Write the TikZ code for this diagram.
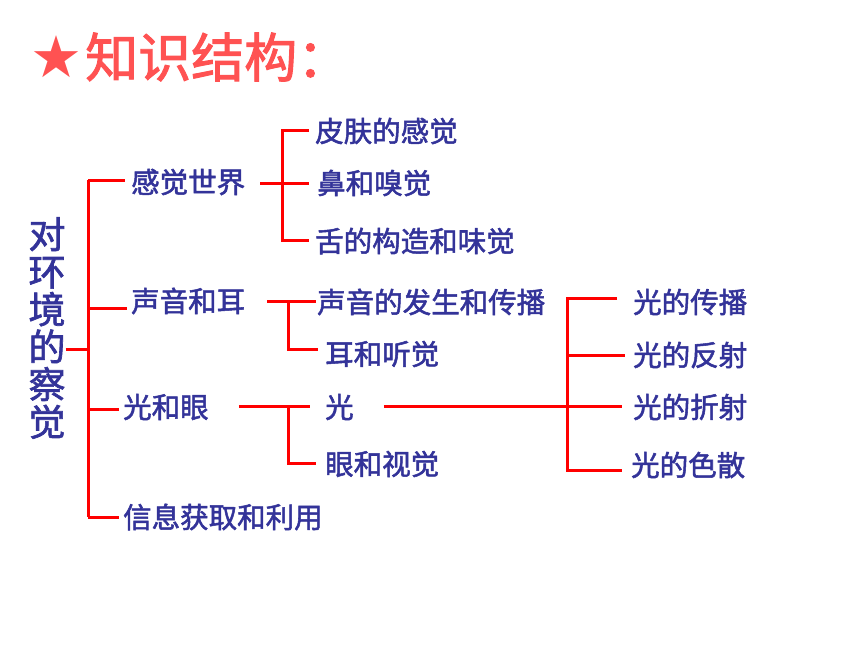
\documentclass[tikz,border=0pt]{standalone}
\usepackage{fontspec}
\setmainfont{Noto Sans CJK SC}[FakeBold=1.8]
\newfontfamily\symfont{DejaVu Sans}
\definecolor{txtblue}{RGB}{51,51,153}
\definecolor{titlered}{RGB}{255,82,82}
\definecolor{linkred}{RGB}{255,0,0}
\begin{document}
\begin{tikzpicture}[x=1pt,y=-1pt,
  lbl/.style={anchor=west,inner sep=0pt,text=txtblue,font=\fontsize{28.5}{30}\selectfont},
  link/.style={draw=linkred,line width=3pt}]
\useasboundingbox (0,0) rectangle (860,645);
% title
\node[anchor=west,inner sep=0pt,text=titlered,font=\fontsize{53}{58}\selectfont] (title) at (30,57) {{\symfont\fontsize{58}{60}\selectfont ★}\hspace{3pt}知识结构\hspace{0pt}：};
% root
\node[inner sep=0pt,text=txtblue,align=center,font=\fontsize{37}{37.5}\selectfont] (root) at (47,328) {对\\环\\境\\的\\察\\觉};
% level 1
\node[lbl] (a1) at (131,182) {感觉世界};
\node[lbl] (a2) at (131,301) {声音和耳};
\node[lbl] (a3) at (123,407) {光和眼};
\node[lbl] (a4) at (123,517) {信息获取和利用};
% level 2
\node[lbl] (b1) at (315,131) {皮肤的感觉};
\node[lbl] (b2) at (317,183) {鼻和嗅觉};
\node[lbl] (b3) at (315,241) {舌的构造和味觉};
\node[lbl] (b4) at (317,302) {声音的发生和传播};
\node[lbl] (b5) at (325,354) {耳和听觉};
\node[lbl] (c1) at (325,407) {光};
\node[lbl] (c2) at (325,464) {眼和视觉};
% level 3
\node[lbl] (d1) at (633,302) {光的传播};
\node[lbl] (d2) at (633,355) {光的反射};
\node[lbl] (d3) at (633,407) {光的折射};
\node[lbl] (d4) at (631,465) {光的色散};
% junctions
\coordinate (rj) at (88,349);
\coordinate (t0) at (88,180);
\coordinate (t1) at (88,308);
\coordinate (t2) at (88,409);
\coordinate (t3) at (88,517);
\coordinate (s1) at (282,183);
\coordinate (s2) at (288,301);
\coordinate (s2b) at (288,349);
\coordinate (s3) at (288,406);
\coordinate (s3b) at (288,463);
\coordinate (s4) at (567,406);
\coordinate (s4a) at (567,298);
\coordinate (s4b) at (567,355);
\coordinate (s4d) at (567,470);
% root connectors
\draw[link] (root.east |- rj) -- (rj);
\draw[link] (t0) -- (t3);
\draw[link] (t0) -- ([xshift=-6pt]a1.west |- t0);
\draw[link] (t1) -- ([xshift=-4pt]a2.west |- t1);
\draw[link] (t2) -- ([xshift=-4pt]a3.west |- t2);
\draw[link] (t3) -- ([xshift=-4pt]a4.west |- t3);
% group 1
\draw[link] ([xshift=15pt]a1.east |- s1) -- ([xshift=-8pt]b2.west |- s1);
\draw[link] ([xshift=-6pt]b1.west |- 0,130) -- (s1 |- 0,130) -- (s1 |- 0,240) -- ([xshift=-6pt]b3.west |- 0,240);
% group 2
\draw[link] ([xshift=22pt]a2.east |- s2) -- ([xshift=-1pt]b4.west |- s2);
\draw[link] (s2) -- (s2b) -- ([xshift=-7pt]b5.west |- s2b);
% group 3
\draw[link] ([xshift=30pt]a3.east |- s3) -- ([xshift=-15pt]c1.west |- s3);
\draw[link] (s3) -- (s3b) -- ([xshift=-9pt]c2.west |- s3b);
% group 4
\draw[link] ([xshift=30pt]c1.east |- s4) -- ([xshift=-11pt]d3.west |- s4);
\draw[link] ([xshift=-16pt]d1.west |- s4a) -- (s4a) -- (s4d) -- ([xshift=-9pt]d4.west |- s4d);
\draw[link] (s4b) -- ([xshift=-8pt]d2.west |- s4b);
\end{tikzpicture}
\end{document}
